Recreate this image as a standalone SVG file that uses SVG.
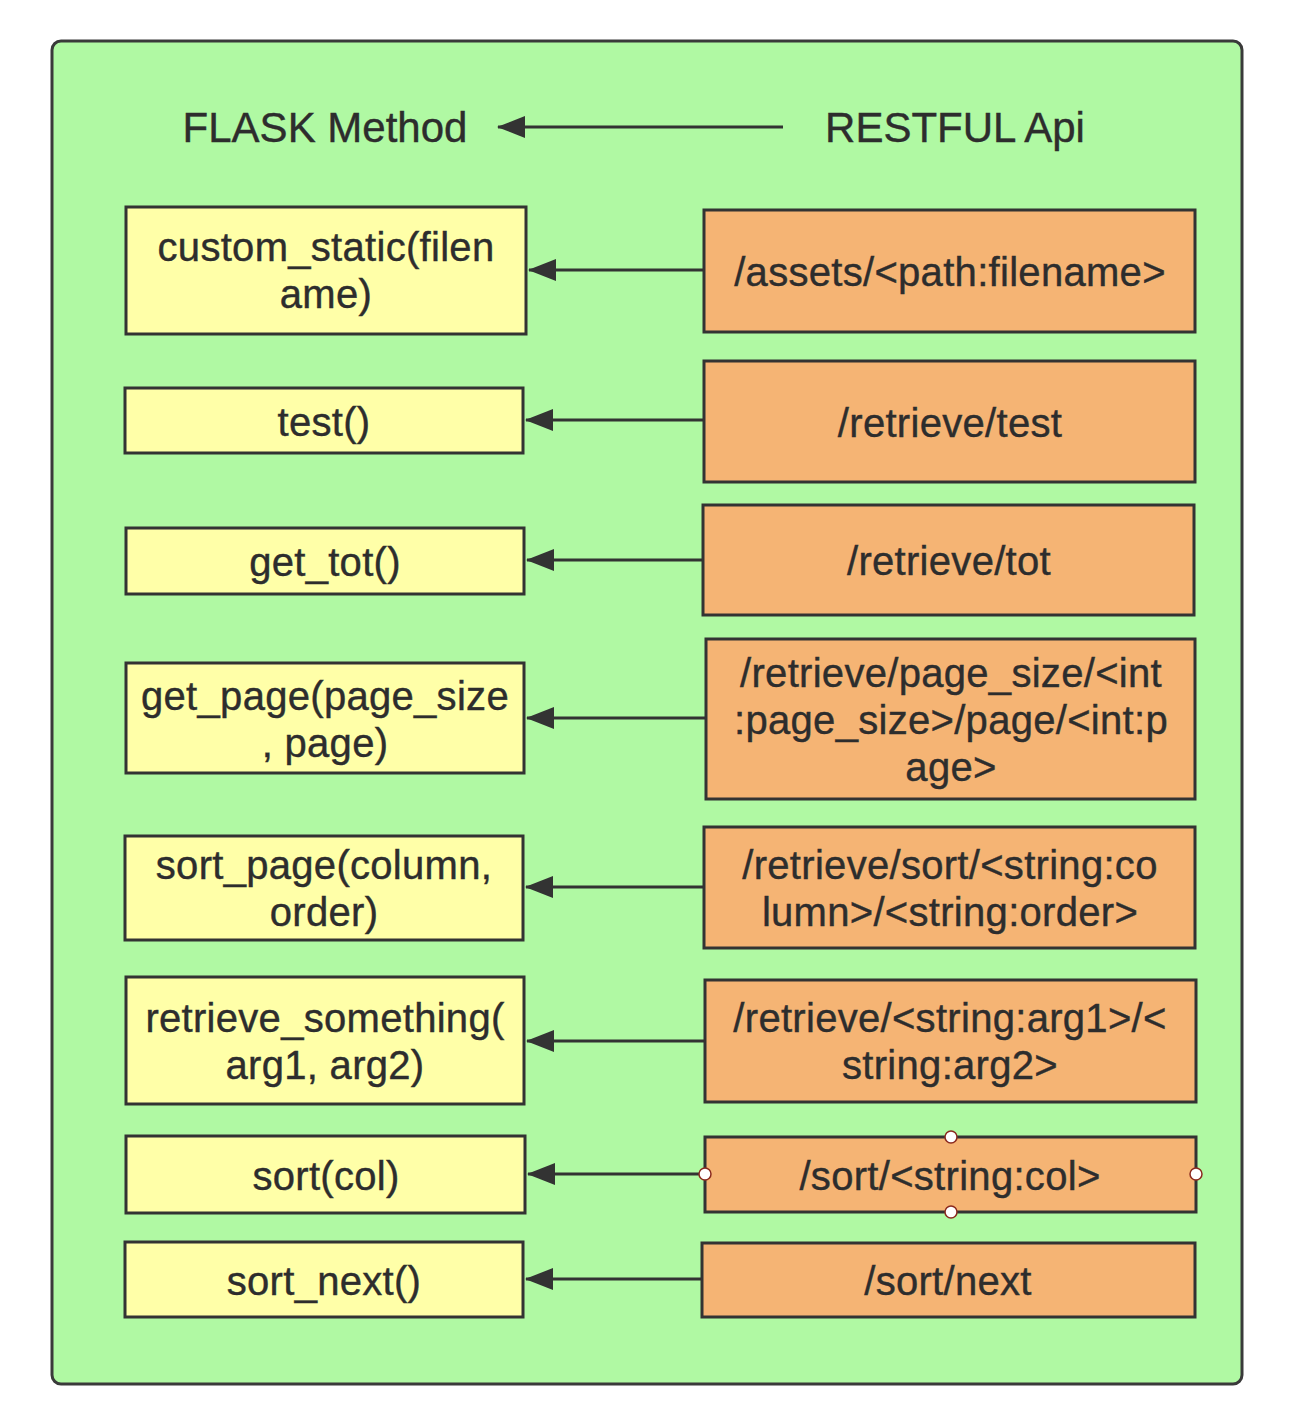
<svg xmlns="http://www.w3.org/2000/svg" width="1294" height="1416" viewBox="0 0 1294 1416">
<defs>
<style>
.bg{fill:#b0f9a3;stroke:#3a3a3a;stroke-width:3}
.y{fill:#ffffa8;stroke:#333;stroke-width:3}
.o{fill:#f5b474;stroke:#333;stroke-width:3}
text{font-family:"Liberation Sans",Arial,sans-serif;font-size:40px;letter-spacing:0.3px;fill:#2d2d2d;stroke:#2d2d2d;stroke-width:0.4;text-anchor:middle}
.t{font-size:42px;letter-spacing:0}
.c{stroke:#333;stroke-width:3;fill:none;marker-end:url(#ah)}
.h{fill:#fff;stroke:#8b2a1f;stroke-width:1.5}
</style>
<marker id="ah" viewBox="0 0 28 22" refX="27" refY="11" markerWidth="28" markerHeight="22" markerUnits="userSpaceOnUse" orient="auto">
<path d="M0,0 L28,11 L0,22 Z" fill="#333"/>
</marker>
</defs>
<rect class="bg" x="52" y="41" width="1190" height="1343" rx="9"/>
<g id="title-flask"><text class="t" x="325" y="142">FLASK Method</text></g>
<g id="title-rest"><text class="t" x="955" y="142">RESTFUL Api</text></g>

<g id="connectors">
<path class="c" d="M783,127 L498,127"/>
<path class="c" d="M704,270 L529,270"/>
<path class="c" d="M704,420 L526,420"/>
<path class="c" d="M703,560 L527,560"/>
<path class="c" d="M706,718 L527,718"/>
<path class="c" d="M704,887 L526,887"/>
<path class="c" d="M705,1041 L527,1041"/>
<path class="c" d="M705,1174 L528,1174"/>
<path class="c" d="M702,1279 L526,1279"/>
</g>

<g id="m1"><rect class="y" x="126" y="207" width="400" height="127"/><text x="326" y="261">custom_static(filen</text><text x="326" y="308">ame)</text></g>
<g id="m2"><rect class="y" x="125" y="388" width="398" height="65"/><text x="324" y="436">test()</text></g>
<g id="m3"><rect class="y" x="126" y="528" width="398" height="66"/><text x="325" y="576">get_tot()</text></g>
<g id="m4"><rect class="y" x="126" y="663" width="398" height="110"/><text x="325" y="710">get_page(page_size</text><text x="325" y="757">, page)</text></g>
<g id="m5"><rect class="y" x="125" y="836" width="398" height="104"/><text x="324" y="879">sort_page(column,</text><text x="324" y="926">order)</text></g>
<g id="m6"><rect class="y" x="126" y="977" width="398" height="127"/><text x="325" y="1032">retrieve_something(</text><text x="325" y="1079">arg1, arg2)</text></g>
<g id="m7"><rect class="y" x="126" y="1136" width="399" height="77"/><text x="326" y="1190">sort(col)</text></g>
<g id="m8"><rect class="y" x="125" y="1242" width="398" height="75"/><text x="324" y="1295">sort_next()</text></g>

<g id="r1"><rect class="o" x="704" y="210" width="491" height="122"/><text x="950" y="286">/assets/&lt;path:filename&gt;</text></g>
<g id="r2"><rect class="o" x="704" y="361" width="491" height="121"/><text x="950" y="437">/retrieve/test</text></g>
<g id="r3"><rect class="o" x="703" y="505" width="491" height="110"/><text x="949" y="575">/retrieve/tot</text></g>
<g id="r4"><rect class="o" x="706" y="639" width="489" height="160"/><text x="951" y="687">/retrieve/page_size/&lt;int</text><text x="951" y="734">:page_size&gt;/page/&lt;int:p</text><text x="951" y="781">age&gt;</text></g>
<g id="r5"><rect class="o" x="704" y="827" width="491" height="121"/><text x="950" y="879">/retrieve/sort/&lt;string:co</text><text x="950" y="926">lumn&gt;/&lt;string:order&gt;</text></g>
<g id="r6"><rect class="o" x="705" y="980" width="491" height="122"/><text x="950" y="1032">/retrieve/&lt;string:arg1&gt;/&lt;</text><text x="950" y="1079">string:arg2&gt;</text></g>
<g id="r7"><rect class="o" x="705" y="1137" width="491" height="75"/><text x="950" y="1190">/sort/&lt;string:col&gt;</text>
<circle class="h" cx="705" cy="1174" r="6"/><circle class="h" cx="1196" cy="1174" r="6"/><circle class="h" cx="951" cy="1137" r="6"/><circle class="h" cx="951" cy="1212" r="6"/></g>
<g id="r8"><rect class="o" x="702" y="1243" width="493" height="74"/><text x="948" y="1295">/sort/next</text></g>
</svg>
